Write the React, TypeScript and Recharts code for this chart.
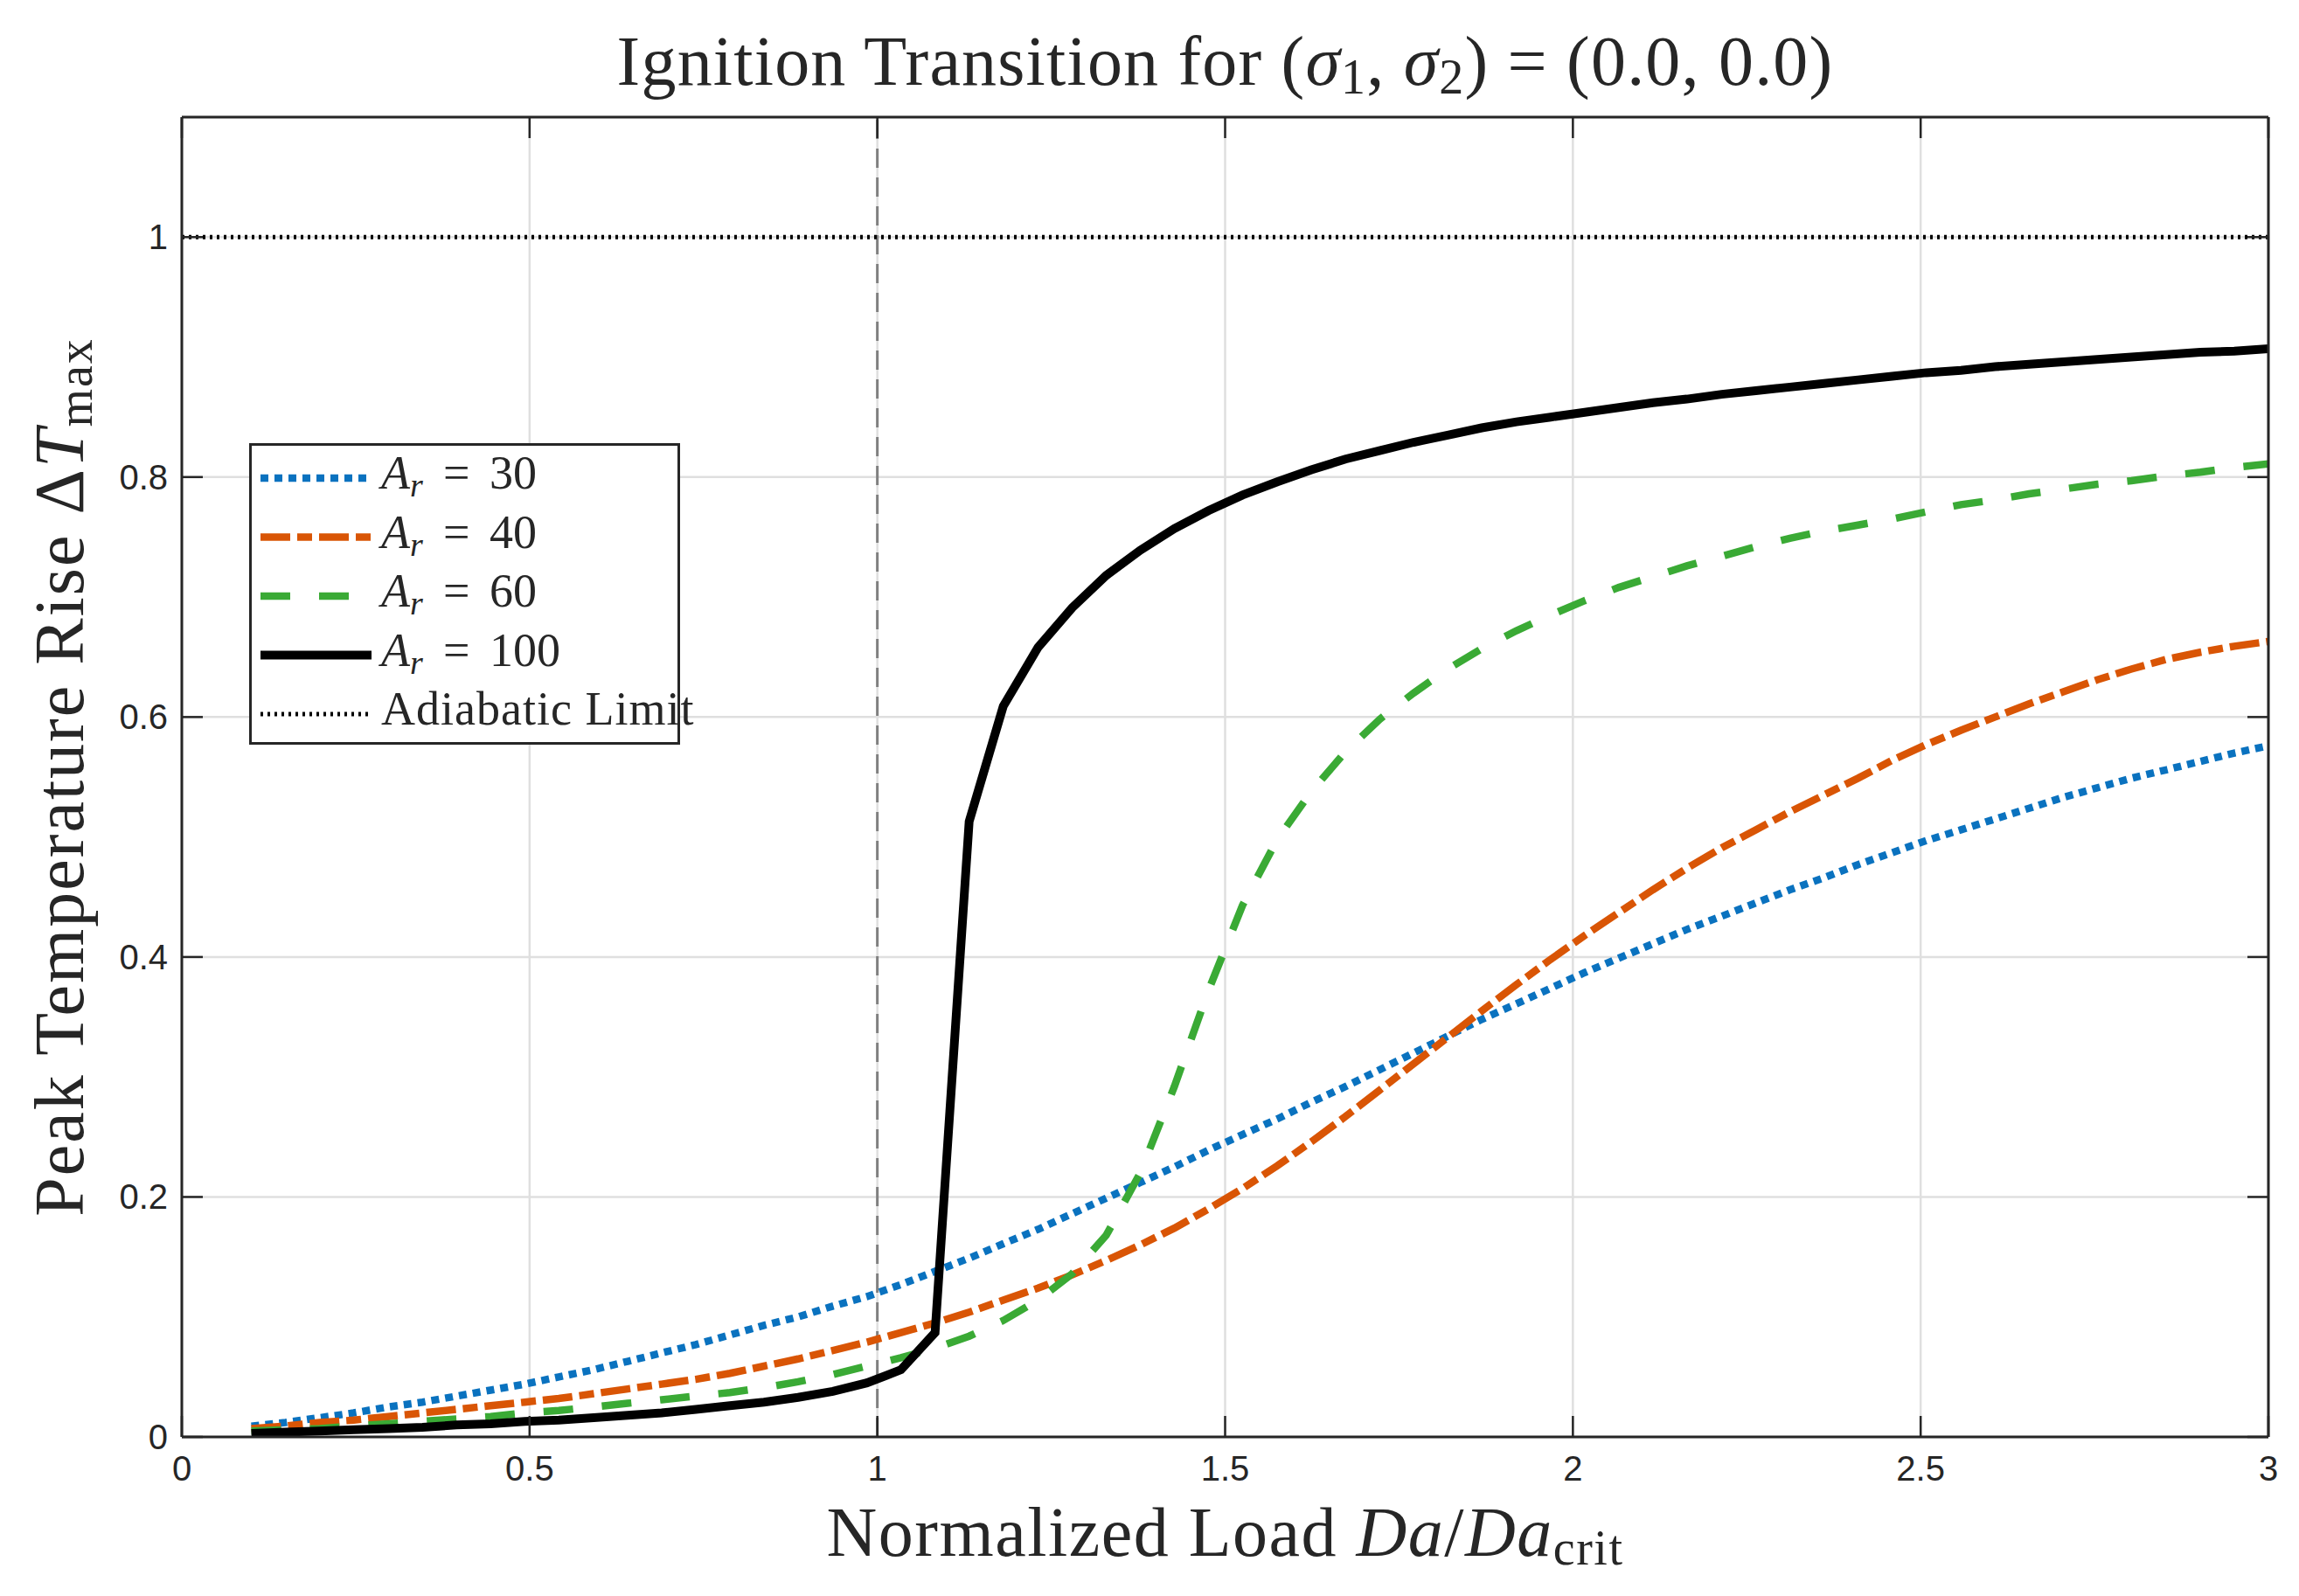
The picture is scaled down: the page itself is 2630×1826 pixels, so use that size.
import React from 'react';
import { LineChart, Line, XAxis, YAxis, CartesianGrid, ReferenceLine, Legend } from 'recharts';

// Normalized load Da/Da_crit (60 samples from 0.1 to 3)
const loadRatio = [
  0.1, 0.149, 0.198, 0.247, 0.297, 0.346, 0.395, 0.444, 0.493, 0.542,
  0.592, 0.641, 0.69, 0.739, 0.788, 0.837, 0.886, 0.936, 0.985, 1.034,
  1.083, 1.132, 1.181, 1.231, 1.28, 1.329, 1.378, 1.427, 1.476, 1.525,
  1.575, 1.624, 1.673, 1.722, 1.771, 1.82, 1.869, 1.919, 1.968, 2.017,
  2.066, 2.115, 2.164, 2.214, 2.263, 2.312, 2.361, 2.41, 2.459, 2.508,
  2.558, 2.607, 2.656, 2.705, 2.754, 2.803, 2.853, 2.902, 2.951, 3.0,
];

// Peak temperature rise for each activation energy A_r
const riseAr30 = [
  0.009, 0.012, 0.016, 0.02, 0.025, 0.029, 0.034, 0.039, 0.044, 0.05,
  0.056, 0.063, 0.07, 0.077, 0.085, 0.093, 0.1, 0.109, 0.117, 0.127,
  0.138, 0.149, 0.161, 0.173, 0.186, 0.199, 0.212, 0.225, 0.239, 0.252,
  0.265, 0.279, 0.292, 0.306, 0.32, 0.334, 0.348, 0.361, 0.374, 0.387,
  0.399, 0.411, 0.423, 0.434, 0.445, 0.456, 0.466, 0.477, 0.487, 0.497,
  0.506, 0.515, 0.524, 0.533, 0.541, 0.549, 0.556, 0.563, 0.57, 0.576,
];
const riseAr40 = [
  0.007, 0.009, 0.012, 0.014, 0.017, 0.02, 0.023, 0.026, 0.029, 0.032,
  0.036, 0.04, 0.044, 0.048, 0.053, 0.059, 0.065, 0.072, 0.079, 0.087,
  0.095, 0.104, 0.114, 0.124, 0.135, 0.147, 0.16, 0.174, 0.19, 0.207,
  0.226, 0.246, 0.267, 0.289, 0.311, 0.333, 0.355, 0.377, 0.398, 0.418,
  0.437, 0.456, 0.474, 0.491, 0.506, 0.521, 0.535, 0.549, 0.564, 0.577,
  0.589, 0.6, 0.611, 0.621, 0.631, 0.64, 0.648, 0.654, 0.659, 0.663,
];
const riseAr60 = [
  0.005, 0.006, 0.007, 0.009, 0.011, 0.013, 0.015, 0.017, 0.02, 0.022,
  0.025, 0.028, 0.031, 0.034, 0.037, 0.041, 0.046, 0.052, 0.059, 0.066,
  0.074, 0.084, 0.097, 0.114, 0.136, 0.168, 0.22, 0.292, 0.372, 0.443,
  0.498, 0.538, 0.571, 0.598, 0.62, 0.64, 0.657, 0.672, 0.685, 0.697,
  0.708, 0.717, 0.726, 0.734, 0.742, 0.749, 0.755, 0.76, 0.765, 0.771,
  0.777, 0.781, 0.786, 0.79, 0.794, 0.797, 0.801, 0.804, 0.808, 0.811,
];
const riseAr100 = [
  0.003, 0.004, 0.005, 0.006, 0.007, 0.008, 0.01, 0.011, 0.013, 0.014,
  0.016, 0.018, 0.02, 0.023, 0.026, 0.029, 0.033, 0.038, 0.045, 0.056,
  0.087, 0.513, 0.609, 0.658, 0.691, 0.718, 0.739, 0.757, 0.772, 0.785,
  0.796, 0.806, 0.815, 0.822, 0.829, 0.835, 0.841, 0.846, 0.85, 0.854,
  0.858, 0.862, 0.865, 0.869, 0.872, 0.875, 0.878, 0.881, 0.884, 0.887,
  0.889, 0.892, 0.894, 0.896, 0.898, 0.9, 0.902, 0.904, 0.905, 0.907,
];

const xTicks = [0, 0.5, 1, 1.5, 2, 2.5, 3];
const yTicks = [0, 0.2, 0.4, 0.6, 0.8, 1];
const criticalLoad = 1;
const adiabaticLimit = 1;

const rows = loadRatio.map((x, i) => ({
  x,
  a30: riseAr30[i],
  a40: riseAr40[i],
  a60: riseAr60[i],
  a100: riseAr100[i],
}));

const series = [
  { key: 'a30', ar: '30', color: '#0a72bf', dash: '9 7', width: 8.5 },
  { key: 'a40', ar: '40', color: '#d95505', dash: '34 8 17 8', width: 8.5 },
  { key: 'a60', ar: '60', color: '#3aaa35', dash: '34 33', width: 8.5 },
  { key: 'a100', ar: '100', color: '#000000', dash: undefined, width: 10 },
];

const SERIF = '"Liberation Serif", "DejaVu Serif", serif';
const SANS = '"Liberation Sans", Arial, sans-serif';
const INK = '#262626';
const TICK_LEN = 24;
const ADIABATIC_DASH = '3 5';

const BottomTick = ({ x, y, payload }: any) => (
  <g>
    <line x1={x} y1={y} x2={x} y2={y - TICK_LEN} stroke={INK} strokeWidth={2.5} />
    <text x={x} y={y + 50} textAnchor="middle" fontFamily={SANS} fontSize={40} fill={INK}>
      {String(payload.value)}
    </text>
  </g>
);

const TopTick = ({ x, y }: any) => (
  <line x1={x} y1={y} x2={x} y2={y + TICK_LEN} stroke={INK} strokeWidth={2.5} />
);

const LeftTick = ({ x, y, payload }: any) => (
  <g>
    <line x1={x} y1={y} x2={x + TICK_LEN} y2={y} stroke={INK} strokeWidth={2.5} />
    <text x={x - 16} y={y + 14} textAnchor="end" fontFamily={SANS} fontSize={40} fill={INK}>
      {String(payload.value)}
    </text>
  </g>
);

const RightTick = ({ x, y }: any) => (
  <line x1={x} y1={y} x2={x - TICK_LEN} y2={y} stroke={INK} strokeWidth={2.5} />
);

// title sits on the top axis
const TitleLabel = ({ viewBox }: any) => (
  <text
    x={viewBox.x + viewBox.width / 2}
    y={viewBox.y - 36}
    textAnchor="middle"
    fontFamily={SERIF}
    fontSize={80}
    letterSpacing={1.2}
    fill={INK}
  >
    Ignition Transition for (<tspan fontStyle="italic">σ</tspan>
    <tspan fontSize={56} dy={10}>1</tspan>
    <tspan dy={-10}>, </tspan>
    <tspan fontStyle="italic">σ</tspan>
    <tspan fontSize={56} dy={10}>2</tspan>
    <tspan dy={-10}>) = (0.0, 0.0)</tspan>
  </text>
);

const XTitle = ({ viewBox }: any) => (
  <text
    x={viewBox.x + viewBox.width / 2}
    y={viewBox.y + 136}
    textAnchor="middle"
    fontFamily={SERIF}
    fontSize={80}
    letterSpacing={1.5}
    fill={INK}
  >
    Normalized Load <tspan fontStyle="italic">Da</tspan>/<tspan fontStyle="italic">Da</tspan>
    <tspan fontSize={56} dy={10}>crit</tspan>
  </text>
);

const YTitle = ({ viewBox }: any) => {
  const cx = viewBox.x + 95;
  const cy = viewBox.y + viewBox.height / 2;
  return (
    <text
      x={cx}
      y={cy}
      transform={`rotate(-90 ${cx} ${cy})`}
      textAnchor="middle"
      fontFamily={SERIF}
      fontSize={80}
      letterSpacing={2}
      fill={INK}
    >
      Peak Temperature Rise Δ<tspan fontStyle="italic">T</tspan>
      <tspan fontSize={56} dy={10}>max</tspan>
    </text>
  );
};

const LegendBox = () => (
  <svg width={493} height={345} style={{ display: 'block', overflow: 'visible' }}>
    <rect x={1.5} y={1.5} width={490} height={342} fill="#fff" stroke={INK} strokeWidth={3} />
    {series.map((s, i) => {
      const cy = 40 + 67.5 * i;
      return (
        <g key={s.key}>
          <line x1={13} x2={140} y1={cy} y2={cy} stroke={s.color} strokeWidth={s.width} strokeDasharray={s.dash} />
          <text y={cy + 12} fontFamily={SERIF} fontSize={54} fill={INK}>
            <tspan x={151} fontStyle="italic">A</tspan>
            <tspan fontStyle="italic" fontSize={38} dy={9}>r</tspan>
            <tspan x={222} dy={-9}>=</tspan>
            <tspan x={275}>{s.ar}</tspan>
          </text>
        </g>
      );
    })}
    <line x1={13} x2={140} y1={310} y2={310} stroke="#000" strokeWidth={5} strokeDasharray={ADIABATIC_DASH} />
    <text x={151} y={322} fontFamily={SERIF} fontSize={54} letterSpacing={1} fill={INK}>
      Adiabatic Limit
    </text>
  </svg>
);

export default function App() {
  return (
    <div style={{ position: 'absolute', left: 0, top: 0, width: 2630, height: 1826, background: '#fff' }}>
      <LineChart width={2630} height={1826} data={rows} margin={{ top: 133, right: 34, bottom: 0, left: 0 }}>
        <CartesianGrid stroke="#dfdfdf" strokeWidth={2.5} />
        <XAxis
          dataKey="x"
          type="number"
          domain={[0, 3]}
          ticks={xTicks}
          allowDataOverflow
          height={182}
          tickSize={0}
          tickMargin={0}
          tickLine={false}
          axisLine={{ stroke: INK, strokeWidth: 3 }}
          tick={BottomTick}
          label={XTitle}
        />
        <XAxis
          xAxisId="top"
          orientation="top"
          dataKey="x"
          type="number"
          domain={[0, 3]}
          ticks={xTicks}
          allowDataOverflow
          height={1}
          tickSize={0}
          tickMargin={0}
          tickLine={false}
          axisLine={{ stroke: INK, strokeWidth: 3 }}
          tick={TopTick}
          label={TitleLabel}
        />
        <YAxis
          type="number"
          domain={[0, 1.1]}
          ticks={yTicks}
          allowDataOverflow
          width={208}
          tickSize={0}
          tickMargin={0}
          tickLine={false}
          axisLine={{ stroke: INK, strokeWidth: 3 }}
          tick={LeftTick}
          label={YTitle}
        />
        <YAxis
          yAxisId="right"
          orientation="right"
          type="number"
          domain={[0, 1.1]}
          ticks={yTicks}
          allowDataOverflow
          width={1}
          tickSize={0}
          tickMargin={0}
          tickLine={false}
          axisLine={{ stroke: INK, strokeWidth: 3 }}
          tick={RightTick}
        />
        <ReferenceLine x={criticalLoad} stroke="#808080" strokeWidth={3} strokeDasharray="22 11" />
        <ReferenceLine y={adiabaticLimit} stroke="#000" strokeWidth={5} strokeDasharray={ADIABATIC_DASH} />
        {series.map((s) => (
          <Line
            key={s.key}
            type="linear"
            dataKey={s.key}
            stroke={s.color}
            strokeWidth={s.width}
            strokeDasharray={s.dash}
            dot={false}
            activeDot={false}
            isAnimationActive={false}
          />
        ))}
        <Legend
          layout="horizontal"
          align="center"
          verticalAlign="middle"
          wrapperStyle={{ left: 285, top: 507, width: 493, height: 345 }}
          content={() => <LegendBox />}
        />
      </LineChart>
    </div>
  );
}
